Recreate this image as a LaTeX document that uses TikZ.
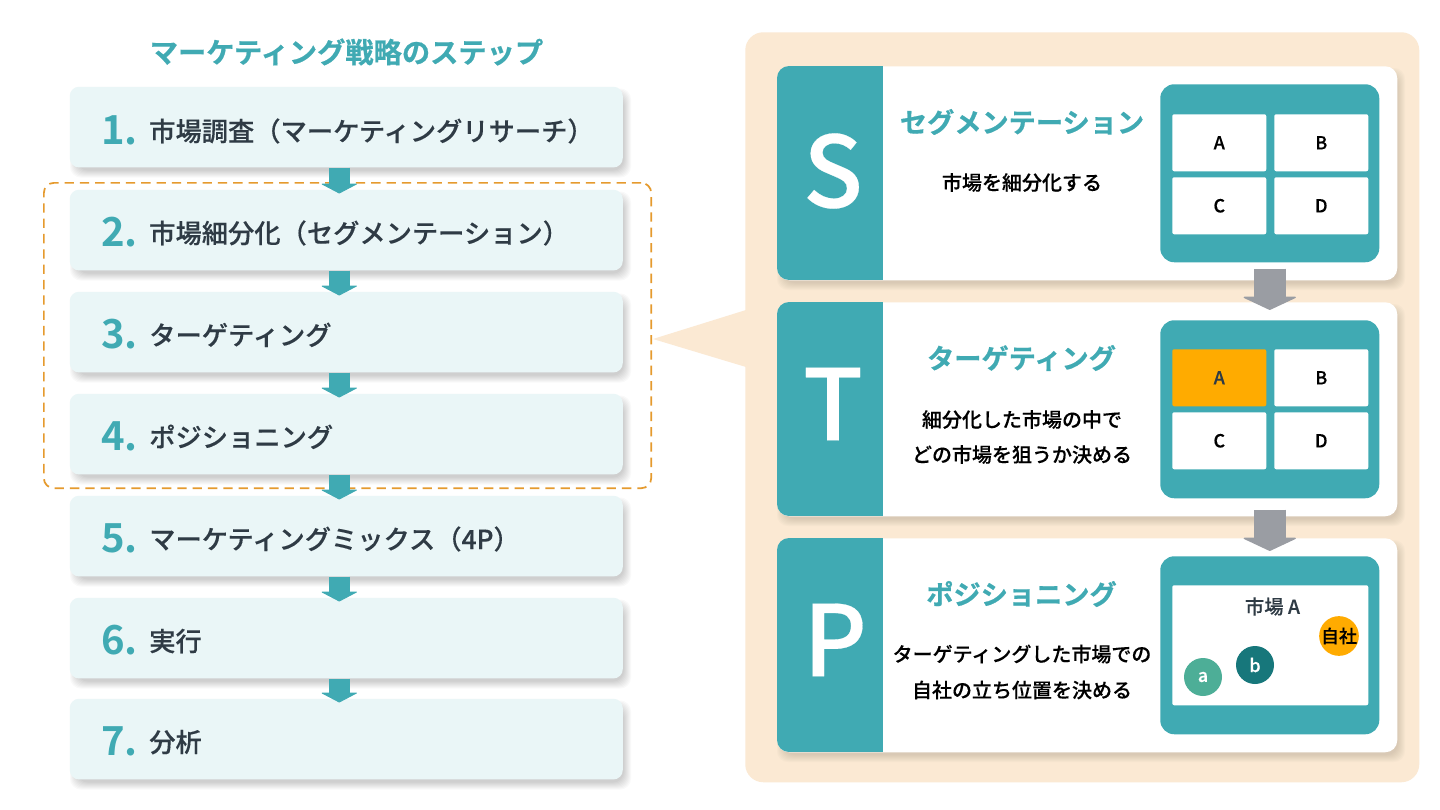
\documentclass[tikz,border=0pt]{standalone}
\usepackage{fontspec}
\setmainfont{Noto Sans CJK JP}[BoldFont={Noto Sans CJK JP Bold}]
\newfontfamily\jpm{Noto Sans CJK JP Medium}[FakeBold=0.2]
\newfontfamily\jph{Noto Sans CJK JP Bold}[FakeBold=0.6]
\newfontfamily\jpb{Noto Sans CJK JP Bold}
\usetikzlibrary{arrows.meta,calc}
\definecolor{teal1}{HTML}{40AAB3}
\definecolor{stepbg}{HTML}{EAF6F7}
\definecolor{peach}{HTML}{FBE9D3}
\definecolor{dash1}{HTML}{E59A2E}
\definecolor{ink}{HTML}{2F3B45}
\definecolor{gray1}{HTML}{9A9DA3}
\definecolor{amber}{HTML}{FFAB00}
\definecolor{dkteal}{HTML}{17777B}
\definecolor{green1}{HTML}{4DAE97}
\newcommand{\softshadow}[5]{%
  \foreach \g in {0,1,...,7}{%
    \fill[#5,opacity=0.022,rounded corners=8pt]
      ({#1+\g},{#2+2+\g}) rectangle ({#3+8-\g},{#4+10-\g});
  }}
\tikzset{
  x=0.75pt,y=-0.75pt,
  stepbox/.style={fill=stepbg,rounded corners=7pt,minimum width=414.75pt,minimum height=60.5pt,inner sep=0pt,anchor=north west},
  stepnum/.style={text=teal1,font=\jpb\fontsize{30}{30}\selectfont,anchor=base west,inner sep=0pt},
  steptxt/.style={text=ink,font=\jpm\fontsize{19.7}{20}\selectfont,anchor=base west,inner sep=0pt},
  flowarrow/.style={draw=teal1,line width=15.75pt,-{Triangle[length=7.5pt,width=28.5pt,fill=teal1,line width=0.75pt,round]}},
  grayarrow/.style={draw=gray1,line width=24pt,-{Triangle[length=10pt,width=42.5pt,fill=gray1,line width=1pt,round]}},
  cardbox/.style={fill=white,rounded corners=9pt,minimum width=465pt,minimum height=160.5pt,inner sep=0pt,anchor=north west},
  panelbox/.style={fill=teal1,rounded corners=10.5pt,minimum width=164.25pt,minimum height=133.5pt,inner sep=0pt,anchor=north west},
  cell/.style={fill=white,rounded corners=1.5pt,minimum width=70.5pt,minimum height=42.75pt,inner sep=0pt,anchor=north west,font=\jpm\fontsize{13.5}{14}\selectfont,text=black},
  bigletter/.style={text=white,font=\jpm\fontsize{74}{74}\selectfont,inner sep=0pt},
  headtxt/.style={text=teal1,font=\jph\fontsize{20.4}{22}\selectfont,inner sep=0pt},
  bodytxt/.style={text=black,font=\jpm\fontsize{15}{16}\selectfont,inner sep=0pt,align=center},
  mark1/.style={circle,minimum size=28.5pt,inner sep=0pt,font=\jpm\fontsize{13.5}{14}\selectfont},
}
\begin{document}
\begin{tikzpicture}
\useasboundingbox (0,0) rectangle (1440,810);
\fill[white] (0,0) rectangle (1440,810);

% title
\node[text=teal1,font=\jph\fontsize{21.2}{22}\selectfont,inner sep=0pt] (title) at (346.5,52) {マーケティング戦略のステップ};

% step shadows and boxes
\foreach \t in {86.5,189.5,291.5,393.5,495.5,597.5,698.5}{
  \softshadow{70}{\t}{623}{\t+81}{black}
}
\node[stepbox] (s1) at (69.5,86.5) {};
\node[stepbox] (s2) at (69.5,189.5) {};
\node[stepbox] (s3) at (69.5,291.5) {};
\node[stepbox] (s4) at (69.5,393.5) {};
\node[stepbox] (s5) at (69.5,495.5) {};
\node[stepbox] (s6) at (69.5,597.5) {};
\node[stepbox] (s7) at (69.5,698.5) {};

\node[stepnum] (n1) at (101,144) {1.};
\node[stepnum] (n2) at (101,246) {2.};
\node[stepnum] (n3) at (101,348) {3.};
\node[stepnum] (n4) at (101,450) {4.};
\node[stepnum] (n5) at (101,552) {5.};
\node[stepnum] (n6) at (101,654) {6.};
\node[stepnum] (n7) at (101,755) {7.};

\node[steptxt] (t1) at (149,141) {市場調査（マーケティングリサーチ）};
\node[steptxt] (t2) at (149,243) {市場細分化（セグメンテーション）};
\node[steptxt] (t3) at (149,345) {ターゲティング};
\node[steptxt] (t4) at (149,447) {ポジショニング};
\node[steptxt] (t5) at (149,549) {マーケティングミックス（4P）};
\node[steptxt] (t6) at (149,651) {実行};
\node[steptxt] (t7) at (149,752) {分析};

% dashed group
\node[draw=dash1,line width=1.3pt,dash pattern=on 7pt off 4.5pt,rounded corners=7.5pt,minimum width=455.5pt,minimum height=229pt,inner sep=0pt,anchor=north west] (group) at (43,182) {};

% flow arrows
\draw[flowarrow] ([xshift=-5.25pt]s1.south) -- ([xshift=-5.25pt,yshift=-3pt]s2.north);
\draw[flowarrow] ([xshift=-5.25pt]s2.south) -- ([xshift=-5.25pt,yshift=-3pt]s3.north);
\draw[flowarrow] ([xshift=-5.25pt]s3.south) -- ([xshift=-5.25pt,yshift=-3pt]s4.north);
\draw[flowarrow] ([xshift=-5.25pt]s4.south) -- ([xshift=-5.25pt,yshift=-3pt]s5.north);
\draw[flowarrow] ([xshift=-5.25pt]s5.south) -- ([xshift=-5.25pt,yshift=-3pt]s6.north);
\draw[flowarrow] ([xshift=-5.25pt]s6.south) -- ([xshift=-5.25pt,yshift=-3pt]s7.north);

% right panel
\node[fill=peach,rounded corners=13.5pt,minimum width=505.5pt,minimum height=562.5pt,inner sep=0pt,anchor=north west] (back) at (745,32) {};
\fill[peach] (653,339) -- (746,310) -- (746,367) -- cycle;

% cards
\foreach \t in {66,302,538}{
  \softshadow{777}{\t}{1397}{\t+214}{black!70!peach}
}
\node[cardbox] (c1) at (777,66) {};
\node[cardbox] (c2) at (777,302) {};
\node[cardbox] (c3) at (777,538) {};
\foreach \t in {66,302,538}{
  \begin{scope}
    \clip[rounded corners=9pt] (777,\t) rectangle (1397,\t+214);
    \fill[teal1] (777,\t) rectangle (883,\t+214);
  \end{scope}
}
\node[bigletter] (ls) at (833,171) {S};
\node[bigletter] (lt) at (833,404) {T};
\node[bigletter] (lp) at (835,640) {P};

% inner panels
\node[panelbox] (p1) at (1160,84) {};
\node[panelbox] (p2) at (1160,320) {};
\node[panelbox] (p3) at (1160,556) {};

\node[cell] (a1) at (1172,114) {\raisebox{-0.75pt}{A}};
\node[cell] (b1) at (1274,114) {\raisebox{-0.75pt}{B}};
\node[cell] (c1c) at (1172,177) {\raisebox{-0.75pt}{C}};
\node[cell] (d1) at (1274,177) {\raisebox{-0.75pt}{D}};
\node[cell,fill=amber,text=ink] (a2) at (1172,349) {\raisebox{-0.75pt}{A}};
\node[cell] (b2) at (1274,349) {\raisebox{-0.75pt}{B}};
\node[cell] (c2c) at (1172,412) {\raisebox{-0.75pt}{C}};
\node[cell] (d2) at (1274,412) {\raisebox{-0.75pt}{D}};
\node[cell,minimum width=147pt,minimum height=90pt] (m3) at (1172,585) {};
\node[text=ink,font=\jpm\fontsize{14.5}{15}\selectfont,inner sep=0pt] (mlabel) at (1272.5,606.5) {市場 A};
\node[mark1,fill=green1,text=white] (ma) at (1203,677) {a};
\node[mark1,fill=dkteal,text=white] (mb) at (1255,665) {b};
\node[mark1,fill=amber,text=black] (mj) at (1339,636) {自社};

% texts
\node[headtxt] (h1) at (1022,122) {セグメンテーション};
\node[headtxt] (h2) at (1021.5,358) {ターゲティング};
\node[headtxt] (h3) at (1021.5,594) {ポジショニング};
\node[bodytxt] (d1t) at (1022,182.5) {市場を細分化する};
\node[bodytxt] (d2a) at (1022,419.5) {細分化した市場の中で};
\node[bodytxt] (d2b) at (1022,454.5) {どの市場を狙うか決める};
\node[bodytxt] (d3a) at (1022,654) {ターゲティングした市場での};
\node[bodytxt] (d3b) at (1022,690) {自社の立ち位置を決める};

% gray arrows
\draw[grayarrow] ([yshift=-4.5pt]p1.south) -- ([yshift=7.5pt]p2.north);
\draw[grayarrow] ([yshift=-8.25pt]p2.south) -- ([yshift=3.75pt]p3.north);
\end{tikzpicture}
\end{document}
